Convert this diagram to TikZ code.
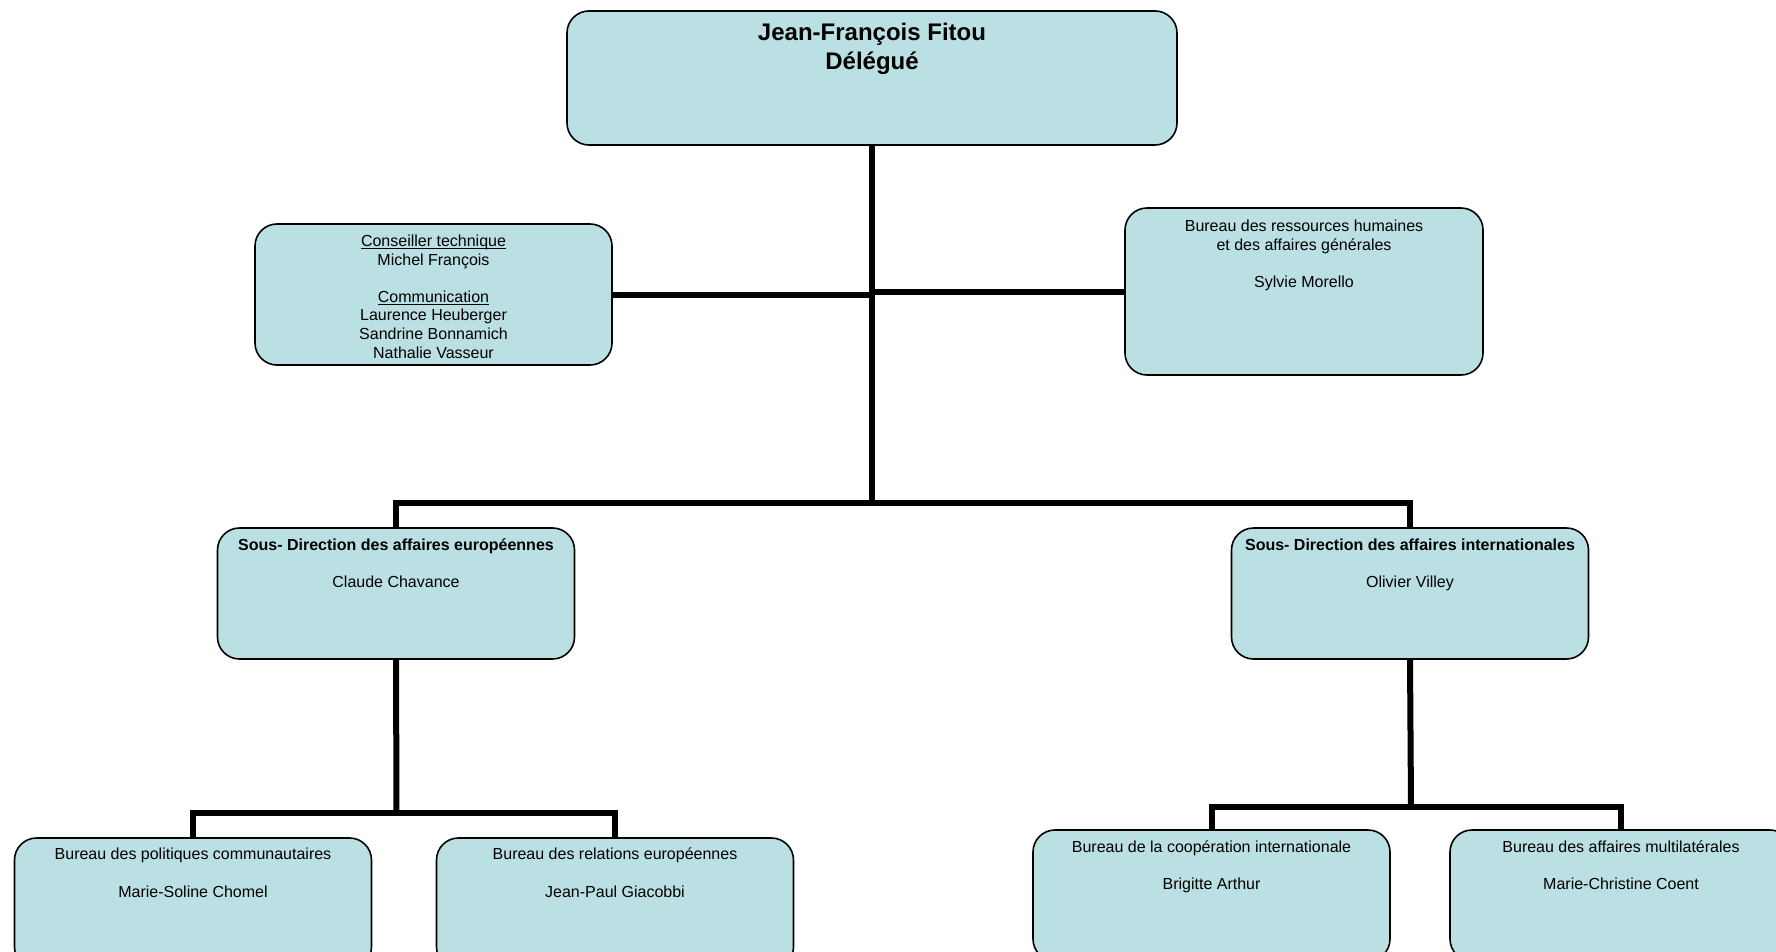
\documentclass[tikz,border=0pt]{standalone}
\usepackage{fontspec}
\setmainfont{Liberation Sans}
\definecolor{boxfill}{RGB}{187,224,227}
\newcommand{\ulin}[1]{\leavevmode\setbox0=\hbox{#1}\rlap{\copy0}\rule[-1.4pt]{\wd0}{0.45pt}}
\newcommand{\smst}{\rule{0pt}{7pt}}
\newcommand{\bgst}{\rule{0pt}{10pt}}
\begin{document}
\begin{tikzpicture}[x=0.5pt,y=-0.5pt,
  orgbox/.style={draw=black, line width=0.8pt, fill=boxfill, rounded corners=11pt, inner sep=0pt},
  small/.style={anchor=north, inner sep=0pt, align=center, font=\fontsize{8}{9.3}\selectfont},
  big/.style={anchor=north, inner sep=0pt, align=center, font=\fontsize{12}{14.5}\selectfont\bfseries},
  conn/.style={line width=3pt, draw=black}]
\useasboundingbox (0,0) rectangle (1776,952);
\clip (0,0) rectangle (1776,952);
% boxes
\node[orgbox, minimum width=305pt, minimum height=67pt] (n0) at (872,78) {};
\node[orgbox, minimum width=178.5pt, minimum height=70.5pt] (cons) at (433.5,294.5) {};
\node[orgbox, minimum width=179pt, minimum height=83.5pt] (rh) at (1304,291.5) {};
\node[orgbox, minimum width=178.5pt, minimum height=65.5pt] (sde) at (396,593.5) {};
\node[orgbox, minimum width=178.5pt, minimum height=65.5pt] (sdi) at (1410,593.5) {};
\node[orgbox, minimum width=178.5pt, minimum height=65.5pt] (b1) at (193,903.5) {};
\node[orgbox, minimum width=178.5pt, minimum height=65.5pt] (b2) at (615,903.5) {};
\node[orgbox, minimum width=178.5pt, minimum height=65.5pt] (b3) at (1211.5,895.5) {};
\node[orgbox, minimum width=171pt, minimum height=65.5pt] (b4) at (1621,895.5) {};
% texts
\node[big] (t0) at ([yshift=-5.1pt]n0.north) {\bgst Jean-François Fitou\\Délégué};
\node[small] (tcons) at ([yshift=-4.4pt]cons.north) {\smst\ulin{Conseiller technique}\\Michel François\\[9.3pt]\ulin{Communication}\\Laurence Heuberger\\Sandrine Bonnamich\\Nathalie Vasseur};
\node[small] (trh) at ([yshift=-5.1pt]rh.north) {\smst Bureau des ressources humaines\\et des affaires générales\\[9.3pt]Sylvie Morello};
\node[small] (tsde) at ([yshift=-4.4pt]sde.north) {\smst\textbf{Sous- Direction des affaires européennes}\\[9.3pt]Claude Chavance};
\node[small] (tsdi) at ([yshift=-4.4pt]sdi.north) {\smst\textbf{Sous- Direction des affaires internationales}\\[9.3pt]Olivier Villey};
\node[small] (tb1) at ([yshift=-4.1pt]b1.north) {\smst Bureau des politiques communautaires\\[9.3pt]Marie-Soline Chomel};
\node[small] (tb2) at ([yshift=-4.1pt]b2.north) {\smst Bureau des relations européennes\\[9.3pt]Jean-Paul Giacobbi};
\node[small] (tb3) at ([yshift=-4.4pt]b3.north) {\smst Bureau de la coopération internationale\\[9.3pt]Brigitte Arthur};
\node[small] (tb4) at ([yshift=-4.4pt]b4.north) {\smst Bureau des affaires multilatérales\\[9.3pt]Marie-Christine Coent};
% junctions
\coordinate (j0) at (872,503);
\coordinate (j1) at (396.5,813);
\coordinate (j2) at (1411,807);
% connectors
\draw[conn] (n0.south) -- (j0);
\draw[conn] (cons.east) -- (cons.east -| n0.south);
\draw[conn] (rh.west) -- (rh.west -| n0.south);
\draw[conn] (sde.north) |- (j0) -| (sdi.north);
\draw[conn] (sde.south) -- (j1);
\draw[conn] (b1.north) |- (j1) -| (b2.north);
\draw[conn] (sdi.south) -- (j2);
\draw[conn] (b3.north) |- (j2) -| (b4.north);
\end{tikzpicture}
\end{document}
